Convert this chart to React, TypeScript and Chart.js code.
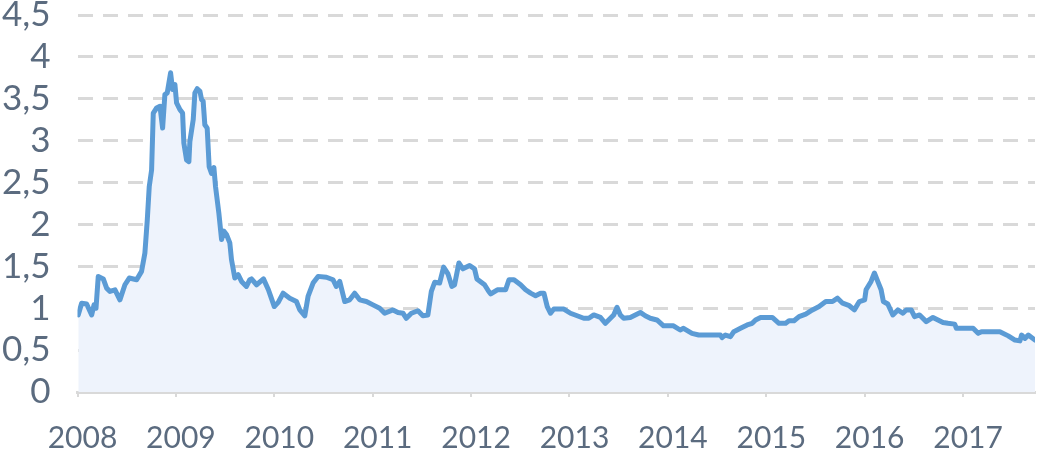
import React, { useEffect, useRef } from "react";
import { Chart, registerables } from "chart.js";

Chart.register(...registerables);

// [year fraction, value]
const series2008: [number, number][] = [
  [2008.008, 0.92], [2008.042, 1.06], [2008.093, 1.05], [2008.144, 0.92], [2008.168, 1.04],
  [2008.188, 1.0], [2008.211, 1.38], [2008.262, 1.35], [2008.296, 1.24], [2008.33, 1.2],
  [2008.381, 1.22], [2008.431, 1.1], [2008.482, 1.28], [2008.526, 1.36], [2008.601, 1.34],
  [2008.651, 1.44], [2008.685, 1.66], [2008.709, 2.05], [2008.729, 2.45], [2008.753, 2.65],
  [2008.77, 3.33], [2008.804, 3.39], [2008.838, 3.41], [2008.865, 3.15], [2008.888, 3.55],
  [2008.912, 3.57], [2008.946, 3.81], [2008.966, 3.61], [2008.99, 3.67],
];
const series2009: [number, number][] = [
  [2009.007, 3.45], [2009.041, 3.37], [2009.068, 3.33], [2009.081, 2.97], [2009.108, 2.77],
  [2009.132, 2.75], [2009.142, 2.99], [2009.176, 3.25], [2009.193, 3.57], [2009.217, 3.62],
  [2009.244, 3.59], [2009.261, 3.49], [2009.277, 3.47], [2009.294, 3.19], [2009.318, 3.15],
  [2009.338, 2.69], [2009.362, 2.61], [2009.386, 2.68], [2009.403, 2.45], [2009.437, 2.13],
  [2009.464, 1.82], [2009.487, 1.92], [2009.514, 1.88], [2009.548, 1.78], [2009.565, 1.58],
  [2009.599, 1.36], [2009.633, 1.4], [2009.667, 1.32], [2009.717, 1.26], [2009.751, 1.34],
  [2009.768, 1.35], [2009.82, 1.28], [2009.89, 1.35], [2009.94, 1.22], [2009.97, 1.12],
];
const series2010: [number, number][] = [
  [2010.0, 1.02], [2010.04, 1.07], [2010.09, 1.18], [2010.157, 1.12], [2010.225, 1.08],
  [2010.259, 0.98], [2010.31, 0.91], [2010.343, 1.14], [2010.394, 1.3], [2010.445, 1.38],
  [2010.53, 1.37], [2010.597, 1.34], [2010.63, 1.26], [2010.665, 1.32], [2010.716, 1.08],
  [2010.766, 1.1], [2010.817, 1.18], [2010.868, 1.1], [2010.936, 1.08],
];
const series2011: [number, number][] = [
  [2011.003, 1.04], [2011.071, 1.0], [2011.122, 0.94], [2011.206, 0.98], [2011.257, 0.95],
  [2011.308, 0.94], [2011.342, 0.88], [2011.393, 0.94], [2011.46, 0.97], [2011.51, 0.91],
  [2011.561, 0.92], [2011.596, 1.2], [2011.63, 1.31], [2011.68, 1.3], [2011.721, 1.49],
  [2011.765, 1.41], [2011.805, 1.26], [2011.832, 1.28], [2011.876, 1.54], [2011.917, 1.47],
  [2011.985, 1.51],
];
const series2012: [number, number][] = [
  [2012.035, 1.47], [2012.059, 1.35], [2012.137, 1.28], [2012.18, 1.2], [2012.2, 1.17],
  [2012.267, 1.22], [2012.351, 1.22], [2012.385, 1.34], [2012.436, 1.34], [2012.503, 1.28],
  [2012.554, 1.22], [2012.605, 1.18], [2012.655, 1.15], [2012.706, 1.18], [2012.74, 1.18],
  [2012.774, 1.02], [2012.807, 0.94], [2012.841, 0.99], [2012.943, 0.99],
];
const series2013: [number, number][] = [
  [2013.01, 0.94], [2013.078, 0.91], [2013.145, 0.88], [2013.196, 0.88], [2013.247, 0.92],
  [2013.314, 0.89], [2013.365, 0.82], [2013.416, 0.88], [2013.449, 0.92], [2013.483, 1.01],
  [2013.517, 0.92], [2013.551, 0.88], [2013.618, 0.89], [2013.669, 0.92], [2013.72, 0.95],
  [2013.77, 0.91], [2013.821, 0.88], [2013.889, 0.86], [2013.956, 0.79],
];
const series2014: [number, number][] = [
  [2014.057, 0.79], [2014.125, 0.74], [2014.159, 0.76], [2014.245, 0.7], [2014.313, 0.68],
  [2014.449, 0.68], [2014.534, 0.68], [2014.551, 0.65], [2014.585, 0.68], [2014.636, 0.66],
  [2014.67, 0.72], [2014.738, 0.76], [2014.806, 0.8], [2014.857, 0.82], [2014.891, 0.86],
  [2014.942, 0.89],
];
const series2015: [number, number][] = [
  [2015.061, 0.89], [2015.129, 0.82], [2015.197, 0.82], [2015.231, 0.85], [2015.282, 0.85],
  [2015.333, 0.9], [2015.401, 0.93], [2015.469, 0.98], [2015.537, 1.02], [2015.605, 1.08],
  [2015.673, 1.08], [2015.724, 1.12], [2015.776, 1.06], [2015.844, 1.03], [2015.895, 0.98],
  [2015.946, 1.08],
];
const series2016: [number, number][] = [
  [2016.0, 1.1], [2016.014, 1.22], [2016.065, 1.32], [2016.099, 1.42], [2016.133, 1.32],
  [2016.167, 1.22], [2016.19, 1.08], [2016.235, 1.05], [2016.286, 0.92], [2016.337, 0.98],
  [2016.388, 0.94], [2016.422, 0.98], [2016.473, 0.98], [2016.507, 0.9], [2016.558, 0.92],
  [2016.626, 0.84], [2016.694, 0.89], [2016.745, 0.86], [2016.796, 0.83], [2016.847, 0.82],
  [2016.915, 0.81], [2016.932, 0.76],
];
const series2017: [number, number][] = [
  [2017.0, 0.76], [2017.102, 0.76], [2017.153, 0.7], [2017.187, 0.72], [2017.374, 0.72],
  [2017.459, 0.67], [2017.527, 0.62], [2017.578, 0.61], [2017.595, 0.68], [2017.629, 0.64],
  [2017.663, 0.68], [2017.731, 0.62],
];

const yearTicks = [2008, 2009, 2010, 2011, 2012, 2013, 2014, 2015, 2016, 2017];
const yTicks = [0, 0.5, 1, 1.5, 2, 2.5, 3, 3.5, 4, 4.5];

const allSeries = [
  series2008, series2009, series2010, series2011, series2012,
  series2013, series2014, series2015, series2016, series2017,
];

const LABEL_COLOR = "#5b6b7f";
const GRID_COLOR = "#d9d9d9";
const FAMILY = "Lato, 'Open Sans', sans-serif";

export default function App() {
  const ref = useRef<HTMLCanvasElement | null>(null);

  useEffect(() => {
    if (!ref.current) return;
    const points = allSeries.flat().map(([x, y]) => ({ x, y }));
    const lastX = points[points.length - 1].x;
    const chart = new Chart(ref.current, {
      type: "line",
      data: {
        datasets: [
          {
            data: points,
            borderColor: "#5b9bd5",
            borderWidth: 5,
            backgroundColor: "#eef3fc",
            fill: "origin",
            pointRadius: 0,
            tension: 0,
            borderJoinStyle: "round",
            borderCapStyle: "round",
          },
        ],
      },
      options: {
        responsive: false,
        animation: false,
        layout: { padding: { top: 15, right: 2, left: 0, bottom: 0 } },
        plugins: { legend: { display: false }, tooltip: { enabled: false } },
        scales: {
          x: {
            type: "linear",
            min: 2008,
            max: lastX,
            afterBuildTicks: (scale: any) => {
              scale.ticks = yearTicks.map((v) => ({ value: v }));
            },
            afterFit: (scale: any) => {
              scale.height = 60;
              scale.paddingLeft = 0;
              scale.paddingRight = 0;
            },
            ticks: {
              autoSkip: false,
              maxRotation: 0,
              color: LABEL_COLOR,
              font: { family: FAMILY, size: 30 },
              padding: 23,
              labelOffset: 5,
              callback: (v: any) => String(v),
            },
            grid: {
              drawOnChartArea: false,
              drawTicks: true,
              tickLength: 5,
              color: GRID_COLOR,
              lineWidth: 2,
            },
            border: { display: true, color: GRID_COLOR, width: 3 },
          },
          y: {
            min: 0,
            max: 4.5,
            afterBuildTicks: (scale: any) => {
              scale.ticks = yTicks.map((v) => ({ value: v }));
            },
            afterFit: (scale: any) => {
              scale.width = 77.5;
              scale.paddingTop = 0;
              scale.paddingBottom = 0;
            },
            ticks: {
              autoSkip: false,
              color: LABEL_COLOR,
              font: { family: FAMILY, size: 35 },
              padding: 27,
              callback: (v: any) => String(v).replace(".", ","),
            },
            grid: {
              drawTicks: false,
              lineWidth: 3,
              color: (ctx: any) => (ctx.tick && ctx.tick.value === 0 ? "rgba(0,0,0,0)" : GRID_COLOR),
            },
            border: { display: false, dash: [15, 10] },
          },
        },
      },
    });
    return () => chart.destroy();
  }, []);

  return (
    <div style={{ position: "absolute", left: 0, top: 0, width: 1037, height: 452, background: "#fff" }}>
      <canvas ref={ref} width={1037} height={452} style={{ display: "block" }} />
    </div>
  );
}
